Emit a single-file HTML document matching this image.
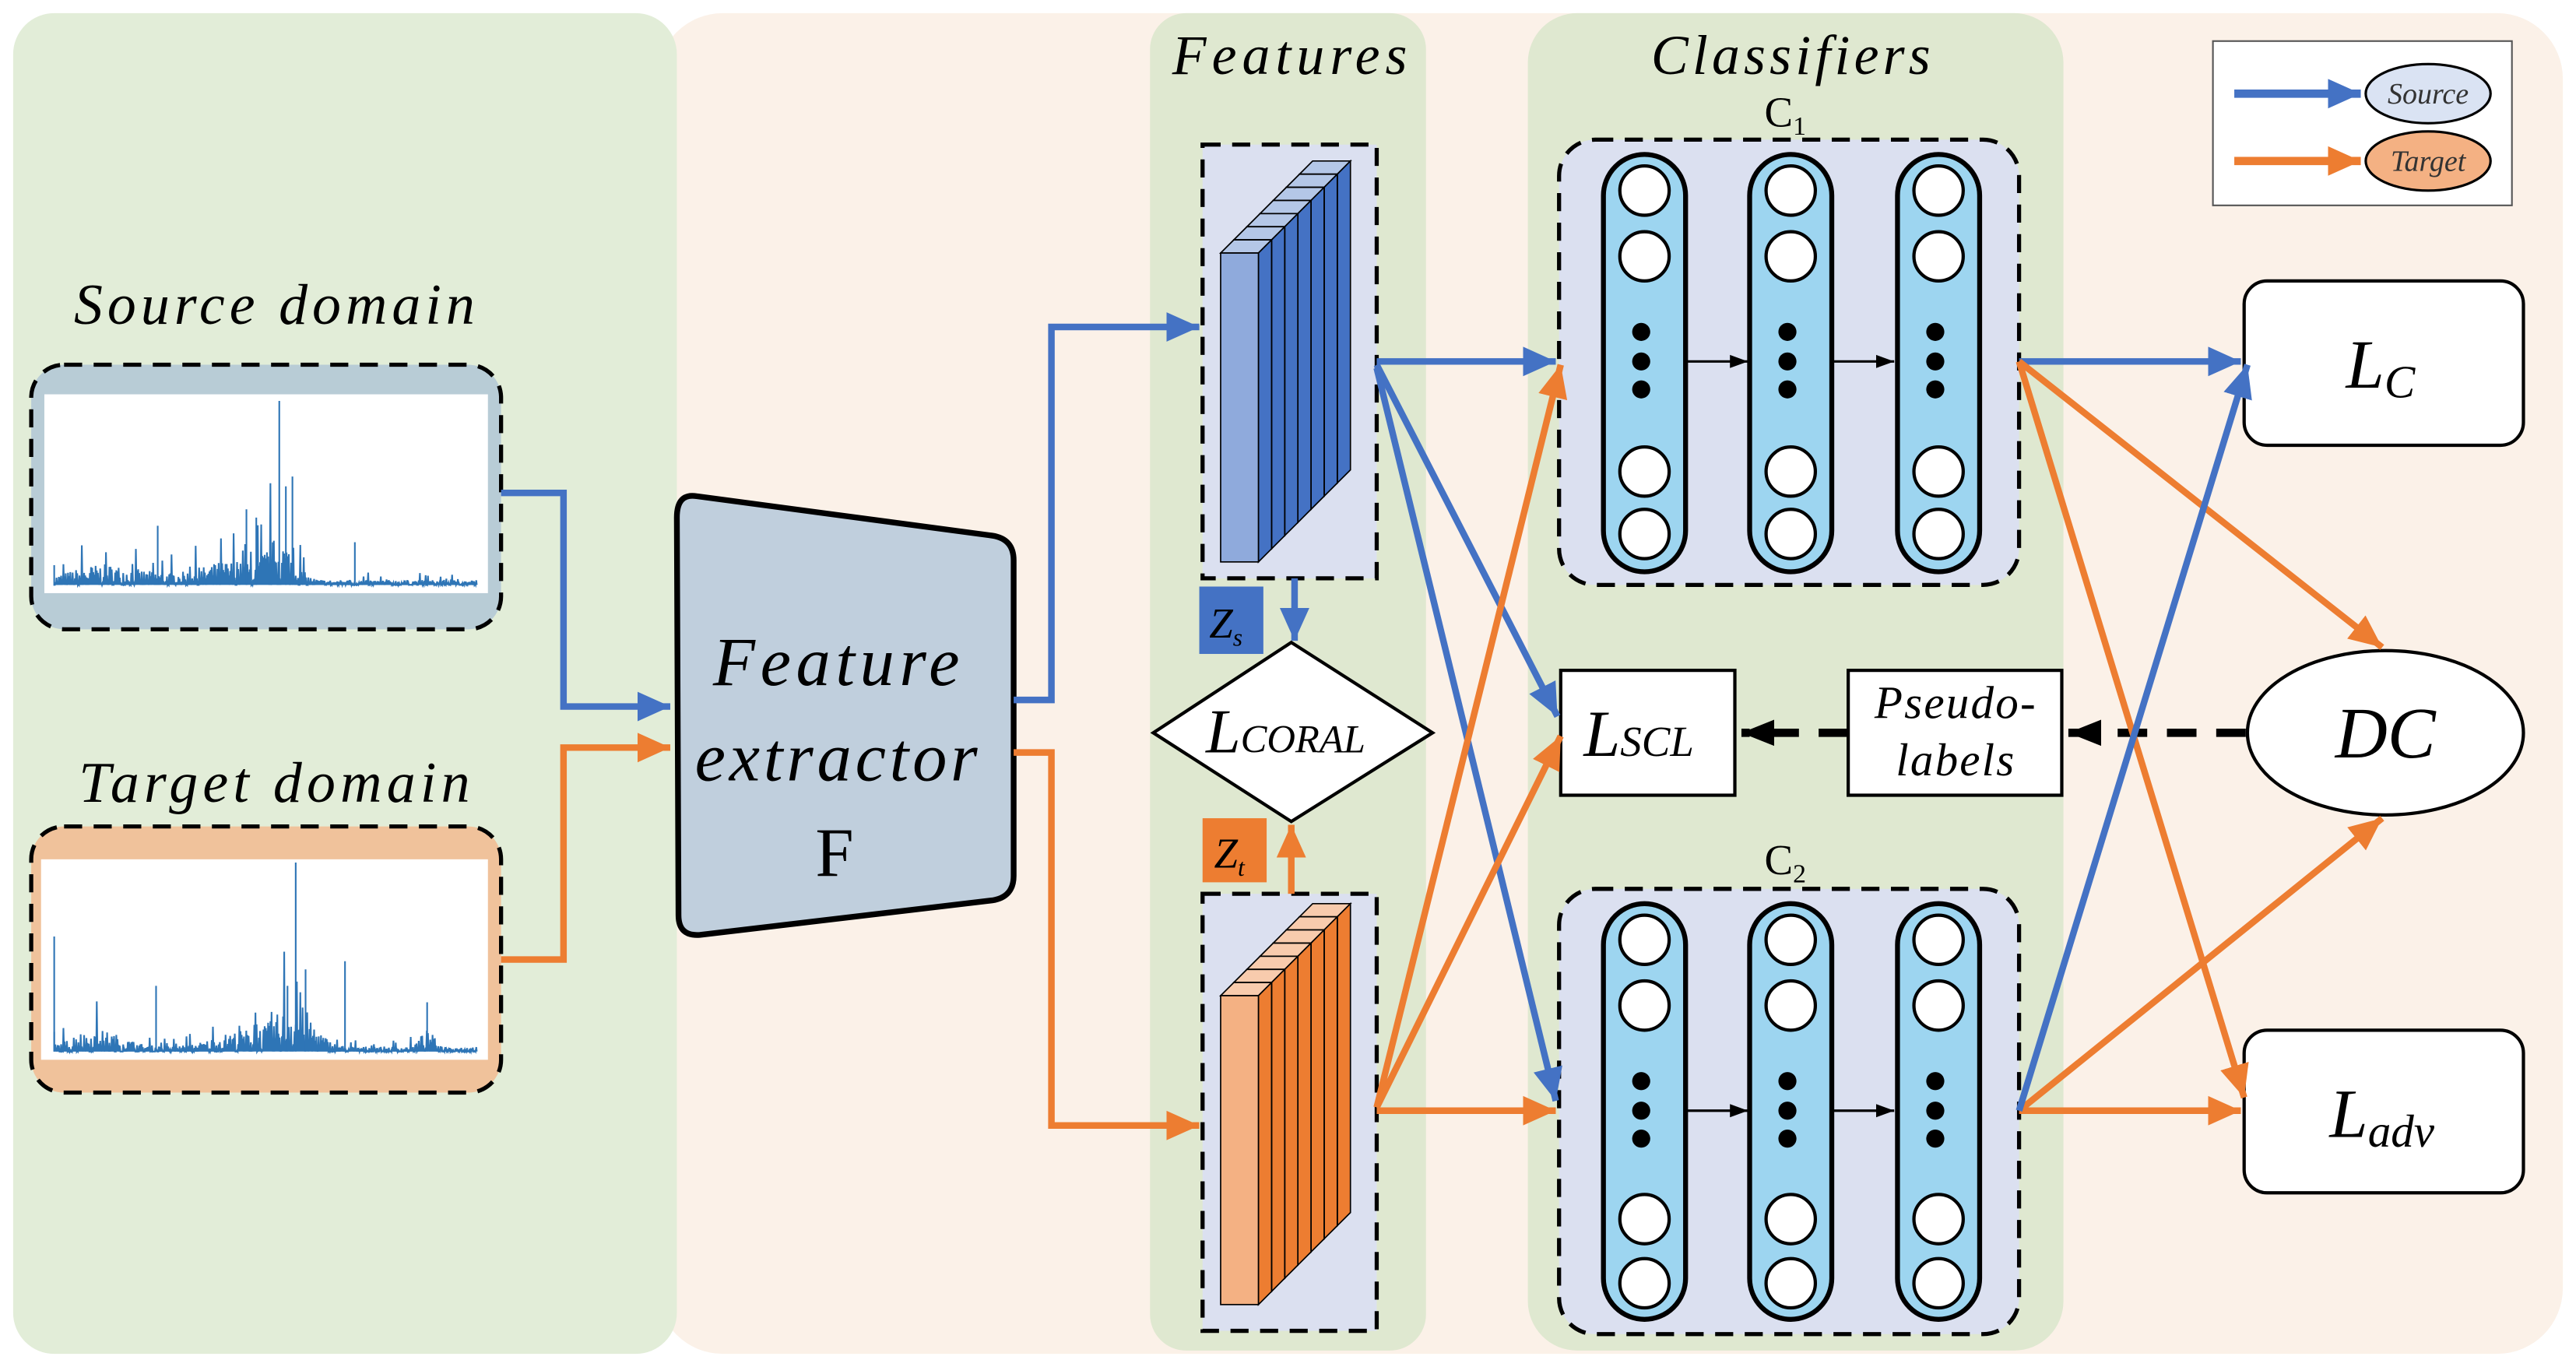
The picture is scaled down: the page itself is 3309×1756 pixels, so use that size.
<!DOCTYPE html>
<html><head><meta charset="utf-8">
<style>
html,body{margin:0;padding:0;background:#fff;}
svg{display:block;}
text{font-family:"Liberation Serif",serif;}
.it{font-style:italic;}
</style></head>
<body>
<svg id="s" width="3309" height="1756" viewBox="0 0 1568 832" preserveAspectRatio="none" xmlns="http://www.w3.org/2000/svg">
<defs>
<marker id="ab" markerUnits="userSpaceOnUse" markerWidth="22" markerHeight="22" refX="20" refY="10" orient="auto"><path d="M0,1 L20,10 L0,19 Z" fill="#4472c4"/></marker>
<marker id="ao" markerUnits="userSpaceOnUse" markerWidth="22" markerHeight="22" refX="20" refY="10" orient="auto"><path d="M0,1 L20,10 L0,19 Z" fill="#ed7d31"/></marker>
<marker id="ak" markerUnits="userSpaceOnUse" markerWidth="22" markerHeight="22" refX="20" refY="10" orient="auto"><path d="M0,2 L20,10 L0,18 Z" fill="#000"/></marker>
<marker id="aks" markerUnits="userSpaceOnUse" markerWidth="12" markerHeight="12" refX="11" refY="5" orient="auto"><path d="M0,1 L11,5 L0,9 Z" fill="#000"/></marker>
</defs>
<rect width="1568" height="832" fill="#fff"/>
<rect x="400" y="8" width="1160" height="816" rx="40" fill="#fbf1e8"/>
<rect x="8" y="8" width="404" height="816" rx="25" fill="#e2edd8"/>
<rect x="700" y="8" width="168" height="814" rx="22" fill="#dfe8d0"/>
<rect x="930" y="8" width="326" height="814" rx="30" fill="#dfe8d0"/>
<text x="785" y="45" class="it" font-size="34" text-anchor="middle" textLength="143" lengthAdjust="spacing">Features</text>
<text x="1090" y="45" class="it" font-size="34" text-anchor="middle" textLength="170" lengthAdjust="spacing">Classifiers</text>

<text x="167" y="197" class="it" font-size="35" text-anchor="middle" textLength="244" lengthAdjust="spacing">Source domain</text>
<rect x="19" y="222" width="286" height="161" rx="20" fill="#b8ccd6" stroke="#000" stroke-width="2.5" stroke-dasharray="11,7"/>
<rect x="27" y="240" width="270" height="121" fill="#fff"/>
<text x="167" y="488" class="it" font-size="35" text-anchor="middle" textLength="238" lengthAdjust="spacing">Target domain</text>
<rect x="19" y="503" width="286" height="162" rx="20" fill="#f0c29b" stroke="#000" stroke-width="2.5" stroke-dasharray="11,7"/>
<rect x="25" y="523" width="272" height="122" fill="#fff"/>
<g id="spec" fill="none" stroke="#2e75b6" stroke-width="1"></g>

<polyline points="305,300 343,300 343,430 408,430" fill="none" stroke="#4472c4" stroke-width="4" marker-end="url(#ab)"/>
<polyline points="305,584 343,584 343,455 408,455" fill="none" stroke="#ed7d31" stroke-width="4" marker-end="url(#ao)"/>

<path d="M424,302 L604,326 Q617,328 617,341 L617,533 Q617,546 604,548 L426,569 Q413,570 413,557 L412,315 Q412,300 424,302 Z" fill="#c0cfdd" stroke="#000" stroke-width="3.5"/>
<text x="509" y="417" class="it" font-size="42" text-anchor="middle" textLength="150" lengthAdjust="spacing">Feature</text>
<text x="509" y="475" class="it" font-size="42" text-anchor="middle" textLength="172" lengthAdjust="spacing">extractor</text>
<text x="508" y="533" font-size="42" text-anchor="middle">F</text>

<polyline points="617,426 640,426 640,199 730,199" fill="none" stroke="#4472c4" stroke-width="4" marker-end="url(#ab)"/>
<polyline points="617,458 640,458 640,685 730,685" fill="none" stroke="#ed7d31" stroke-width="4" marker-end="url(#ao)"/>

<rect x="732" y="88" width="106" height="264" fill="#dbe0f0" stroke="#000" stroke-width="2.5" stroke-dasharray="11,7"/>
<rect x="732" y="544" width="106" height="266" fill="#dbe0f0" stroke="#000" stroke-width="2.5" stroke-dasharray="11,7"/>
<g id="stackB"></g><g id="stackO"></g>

<rect x="730" y="357" width="39" height="41" fill="#4472c4"/>
<text x="736" y="388" class="it" font-size="26">Z<tspan font-size="15" dy="5">s</tspan></text>
<line x1="788" y1="352" x2="788" y2="390" stroke="#4472c4" stroke-width="4" marker-end="url(#ab)"/>
<polygon points="786,391 872,446 786,500 702,446" fill="#fff" stroke="#000" stroke-width="2"/>
<text x="734" y="458" class="it" font-size="38">L<tspan font-size="24">CORAL</tspan></text>
<rect x="732" y="498" width="39" height="39" fill="#ed7d31"/>
<text x="739" y="528" class="it" font-size="26">Z<tspan font-size="15" dy="5">t</tspan></text>
<line x1="786" y1="544" x2="786" y2="502" stroke="#ed7d31" stroke-width="4" marker-end="url(#ao)"/>

<text x="1074" y="77" font-size="26">C<tspan font-size="16" dy="5">1</tspan></text>
<rect x="949" y="85" width="280" height="271" rx="22" fill="#dbe0f0" stroke="#000" stroke-width="2.5" stroke-dasharray="11,7"/>
<text x="1074" y="532" font-size="26">C<tspan font-size="16" dy="5">2</tspan></text>
<rect x="949" y="541" width="280" height="271" rx="22" fill="#dbe0f0" stroke="#000" stroke-width="2.5" stroke-dasharray="11,7"/>
<g id="nets"></g>

<rect x="950" y="408" width="106" height="76" fill="#fff" stroke="#000" stroke-width="2"/>
<text x="964" y="460" class="it" font-size="40">L<tspan font-size="26">SCL</tspan></text>
<rect x="1125" y="408" width="130" height="76" fill="#fff" stroke="#000" stroke-width="2"/>
<text x="1190" y="437" class="it" font-size="28" text-anchor="middle" textLength="98" lengthAdjust="spacing">Pseudo-</text>
<text x="1190" y="472" class="it" font-size="28" text-anchor="middle" textLength="72" lengthAdjust="spacing">labels</text>
<ellipse cx="1452" cy="446" rx="84" ry="50" fill="#fff" stroke="#000" stroke-width="2"/>
<text x="1452" y="461" class="it" font-size="44" text-anchor="middle">DC</text>
<rect x="1366" y="171" width="170" height="100" rx="14" fill="#fff" stroke="#000" stroke-width="2"/>
<text x="1428" y="236" class="it" font-size="42">L<tspan font-size="28" dy="6">C</tspan></text>
<rect x="1366" y="627" width="170" height="99" rx="14" fill="#fff" stroke="#000" stroke-width="2"/>
<text x="1418" y="692" class="it" font-size="42">L<tspan font-size="28" dy="6">adv</tspan></text>

<line x1="1367" y1="446" x2="1259" y2="446" stroke="#000" stroke-width="5" stroke-dasharray="18,12" marker-end="url(#ak)"/>
<line x1="1125" y1="446" x2="1060" y2="446" stroke="#000" stroke-width="5" stroke-dasharray="18,12" marker-end="url(#ak)"/>

<g fill="none" stroke-width="4">
<line x1="838" y1="220" x2="947" y2="220" stroke="#4472c4" marker-end="url(#ab)"/>
<line x1="838" y1="222" x2="948" y2="436" stroke="#4472c4" marker-end="url(#ab)"/>
<line x1="838" y1="224" x2="947" y2="670" stroke="#4472c4" marker-end="url(#ab)"/>
<line x1="838" y1="676" x2="947" y2="676" stroke="#ed7d31" marker-end="url(#ao)"/>
<line x1="838" y1="674" x2="950" y2="222" stroke="#ed7d31" marker-end="url(#ao)"/>
<line x1="838" y1="674" x2="950" y2="448" stroke="#ed7d31" marker-end="url(#ao)"/>
<line x1="1229" y1="220" x2="1364" y2="220" stroke="#4472c4" marker-end="url(#ab)"/>
<line x1="1229" y1="220" x2="1450" y2="394" stroke="#ed7d31" marker-end="url(#ao)"/>
<line x1="1229" y1="220" x2="1366" y2="668" stroke="#ed7d31" marker-end="url(#ao)"/>
<line x1="1229" y1="676" x2="1364" y2="676" stroke="#ed7d31" marker-end="url(#ao)"/>
<line x1="1229" y1="676" x2="1450" y2="498" stroke="#ed7d31" marker-end="url(#ao)"/>
<line x1="1229" y1="676" x2="1368" y2="222" stroke="#4472c4" marker-end="url(#ab)"/>
</g>

<rect x="1347" y="25" width="182" height="100" fill="#fff" stroke="#555" stroke-width="1"/>
<line x1="1360" y1="57" x2="1437" y2="57" stroke="#4472c4" stroke-width="5" marker-end="url(#ab)"/>
<ellipse cx="1478" cy="57" rx="38" ry="18" fill="#dae3f3" stroke="#000" stroke-width="1.5"/>
<text x="1478" y="63" class="it" font-size="18" text-anchor="middle" fill="#333">Source</text>
<line x1="1360" y1="98" x2="1437" y2="98" stroke="#ed7d31" stroke-width="5" marker-end="url(#ao)"/>
<ellipse cx="1478" cy="98" rx="38" ry="18" fill="#f4b183" stroke="#000" stroke-width="1.5"/>
<text x="1478" y="104" class="it" font-size="18" text-anchor="middle" fill="#333">Target</text>
</svg>
<script>
(function(){
var NS="http://www.w3.org/2000/svg";
function el(t,a,p){var e=document.createElementNS(NS,t);for(var k in a)e.setAttribute(k,a[k]);p.appendChild(e);return e;}
var seed=7;function r(){seed=(seed*16807)%2147483647;return seed/2147483647;}
var spec=document.getElementById("spec");
function spectrum(x0,x1,base,peaks){
  var d="M"+x0+","+(base-12)+" L"+x0+","+base;
  for(var x=x0;x<=x1;x+=0.7){
    var env=0;
    peaks.forEach(function(p){env+=p[1]*Math.exp(-Math.pow((x-p[0])/p[2],2));});
    var h=(3+env)*r()*(r()<0.15?2.5:1);
    d+=" L"+x.toFixed(1)+","+(base-h).toFixed(1)+" L"+(x+0.35).toFixed(1)+","+base;
  }
  el("path",{d:d},spec);
}
spectrum(33,290,356,[[60,8,25],[140,10,20],[170,25,12],[100,4,40]]);
el("path",{d:"M170,356 L170,244 M178,356 L178,290 M96,356 L96,320 M150,356 L150,310 M216,356 L216,330 M156,356 L156,315 M174,356 L174,296"},spec);
spectrum(33,290,640,[[60,10,20],[150,10,25],[180,25,15],[260,10,6]]);
el("path",{d:"M180,640 L180,525 M33,640 L33,570 M95,640 L95,600 M210,640 L210,585 M260,640 L260,610 M186,640 L186,590 M175,640 L175,600"},spec);

function stack(g,x,y,h,front,side,top){
  g=document.getElementById(g);
  for(var i=6;i>=0;i--){
    var fx=x+8*i,fy=y-8*i,w=23,d=8;
    el("polygon",{points:(fx)+","+fy+" "+(fx+d)+","+(fy-d)+" "+(fx+w+d)+","+(fy-d)+" "+(fx+w)+","+fy,fill:top,stroke:"#000","stroke-width":"0.8"},g);
    el("polygon",{points:(fx+w)+","+fy+" "+(fx+w+d)+","+(fy-d)+" "+(fx+w+d)+","+(fy+h-d)+" "+(fx+w)+","+(fy+h),fill:side,stroke:"#000","stroke-width":"0.8"},g);
    el("rect",{x:fx,y:fy,width:w,height:h,fill:front,stroke:"#000","stroke-width":"0.8"},g);
  }
}
stack("stackB",743,154,188,"#8faadc","#4472c4","#b4c7e7");
stack("stackO",743,606,188,"#f4b183","#ed7d31","#f8cbad");

var nets=document.getElementById("nets");
function net(cy,ys,dots){
  [1001,1090,1180].forEach(function(cx,i){
    el("rect",{x:cx-25,y:cy[0],width:50,height:cy[1]-cy[0],rx:25,fill:"#9dd5f0",stroke:"#000","stroke-width":"3"},nets);
    ys.forEach(function(y){el("circle",{cx:cx,cy:y,r:15,fill:"#fff",stroke:"#000","stroke-width":"2"},nets);});
    dots.forEach(function(y){el("circle",{cx:cx-2,cy:y,r:5.5,fill:"#000"},nets);});
    if(i<2)el("line",{x1:cx+25,y1:dots[1],x2:cx+63,y2:dots[1],stroke:"#000","stroke-width":"1.5","marker-end":"url(#aks)"},nets);
  });
}
net([94,348],[116,156,287,325],[202,220,237]);
net([550,803],[572,612,742,781],[658,676,693]);
})();
</script>
</body></html>
